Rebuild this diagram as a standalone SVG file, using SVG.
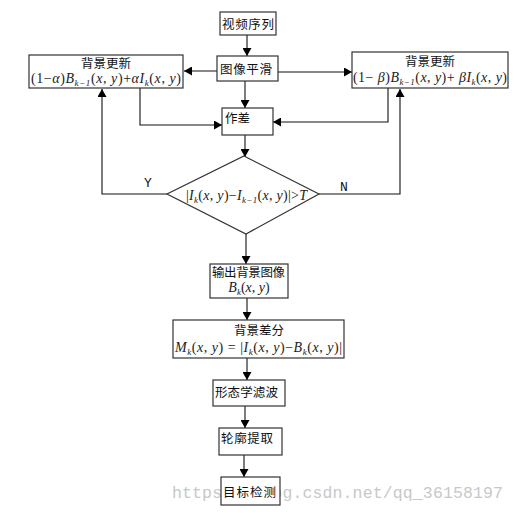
<svg xmlns="http://www.w3.org/2000/svg" width="514" height="513" viewBox="0 0 514 513">
<style>
.box{fill:#fff;stroke:#333;stroke-width:1.2}
.cn{font-family:"Noto Sans CJK SC","Liberation Sans",sans-serif;font-size:12.5px;fill:#111}
.m{font-family:"Liberation Serif",serif;font-size:14px;fill:#222}
.i{font-style:italic}
.s{font-size:9px;font-style:italic}
.ln{fill:none;stroke:#111;stroke-width:1.1}
.lab{font-family:"Liberation Mono",monospace;font-size:13px;fill:#111}
.wm{font-family:"Liberation Mono",monospace;font-size:16.5px;fill:#c8c8c8}
</style>
<defs>
<marker id="ah" markerUnits="userSpaceOnUse" markerWidth="9" markerHeight="9" refX="8" refY="4.5" orient="auto">
<path d="M0,0 L8,4.5 L0,9 z" fill="#000"/>
</marker>
</defs>
<rect width="514" height="513" fill="#fff"/>
<text class="wm" x="172" y="498" textLength="331">https://blog.csdn.net/qq_36158197</text>
<g id="connectors">
<line class="ln" x1="247" y1="35" x2="247" y2="56" marker-end="url(#ah)"/>
<line class="ln" x1="217" y1="71" x2="184" y2="71" marker-end="url(#ah)"/>
<line class="ln" x1="278" y1="72" x2="352" y2="72" marker-end="url(#ah)"/>
<line class="ln" x1="245" y1="81" x2="245" y2="108" marker-end="url(#ah)"/>
<polyline class="ln" points="140,88 140,125 222,125" marker-end="url(#ah)"/>
<polyline class="ln" points="388,88 388,122 273,122" marker-end="url(#ah)"/>
<line class="ln" x1="245" y1="135" x2="245" y2="157" marker-end="url(#ah)"/>
<polyline class="ln" points="167,194 102,194 102,89" marker-end="url(#ah)"/>
<polyline class="ln" points="319,194 400,194 400,89" marker-end="url(#ah)"/>
<line class="ln" x1="246" y1="234" x2="246" y2="264" marker-end="url(#ah)"/>
<line class="ln" x1="247" y1="298" x2="247" y2="320" marker-end="url(#ah)"/>
<line class="ln" x1="247" y1="358" x2="247" y2="380" marker-end="url(#ah)"/>
<line class="ln" x1="245" y1="406" x2="245" y2="428" marker-end="url(#ah)"/>
<line class="ln" x1="244" y1="455" x2="244" y2="477" marker-end="url(#ah)"/>
<text class="lab" x="144" y="187">Y</text>
<text class="lab" x="340" y="191">N</text>
</g>
<g id="n-video">
<rect class="box" x="220" y="12" width="56" height="23"/>
<text class="cn" x="222" y="29" textLength="52">视频序列</text>
</g>
<g id="n-smooth">
<rect class="box" x="217" y="56" width="61" height="25"/>
<text class="cn" x="220" y="74" textLength="52">图像平滑</text>
</g>
<g id="n-bg-left">
<rect class="box" x="29" y="55" width="154" height="33"/>
<text class="cn" x="106" y="68" text-anchor="middle">背景更新</text>
<text class="m" x="31" y="83" textLength="150">(1−<tspan class="i">α</tspan>)<tspan class="i">B</tspan><tspan class="s" dy="3">k−1</tspan><tspan dy="-3">(</tspan><tspan class="i">x</tspan>, <tspan class="i">y</tspan>)+<tspan class="i">αI</tspan><tspan class="s" dy="3">k</tspan><tspan dy="-3">(</tspan><tspan class="i">x</tspan>, <tspan class="i">y</tspan>)</text>
</g>
<g id="n-bg-right">
<rect class="box" x="352" y="52" width="156" height="36"/>
<text class="cn" x="430" y="66" text-anchor="middle">背景更新</text>
<text class="m" x="353" y="82" textLength="154">(1− <tspan class="i">β</tspan>)<tspan class="i">B</tspan><tspan class="s" dy="3">k−1</tspan><tspan dy="-3">(</tspan><tspan class="i">x</tspan>, <tspan class="i">y</tspan>)+ <tspan class="i">βI</tspan><tspan class="s" dy="3">k</tspan><tspan dy="-3">(</tspan><tspan class="i">x</tspan>, <tspan class="i">y</tspan>)</text>
</g>
<g id="n-diff">
<rect class="box" x="222" y="108" width="51" height="27"/>
<text class="cn" x="225" y="123">作差</text>
</g>
<g id="n-decision">
<polygon class="box" points="244,156 319,194 246,234 167,194"/>
<text class="m" x="186" y="200" textLength="121">|<tspan class="i">I</tspan><tspan class="s" dy="3">k</tspan><tspan dy="-3">(</tspan><tspan class="i">x</tspan>, <tspan class="i">y</tspan>)−<tspan class="i">I</tspan><tspan class="s" dy="3">k−1</tspan><tspan dy="-3">(</tspan><tspan class="i">x</tspan>, <tspan class="i">y</tspan>)|&gt;<tspan class="i">T</tspan></text>
</g>
<g id="n-output">
<rect class="box" x="210" y="264" width="78" height="34"/>
<text class="cn" x="212" y="277" textLength="73">输出背景图像</text>
<text class="m" x="249" y="292" text-anchor="middle"><tspan class="i">B</tspan><tspan class="s" dy="3">k</tspan><tspan dy="-3">(</tspan><tspan class="i">x</tspan>, <tspan class="i">y</tspan>)</text>
</g>
<g id="n-bgsub">
<rect class="box" x="173" y="320" width="171" height="38"/>
<text class="cn" x="259" y="335" text-anchor="middle">背景差分</text>
<text class="m" x="175" y="352" textLength="167"><tspan class="i">M</tspan><tspan class="s" dy="3">k</tspan><tspan dy="-3">(</tspan><tspan class="i">x</tspan>, <tspan class="i">y</tspan>) = |<tspan class="i">I</tspan><tspan class="s" dy="3">k</tspan><tspan dy="-3">(</tspan><tspan class="i">x</tspan>, <tspan class="i">y</tspan>)−<tspan class="i">B</tspan><tspan class="s" dy="3">k</tspan><tspan dy="-3">(</tspan><tspan class="i">x</tspan>, <tspan class="i">y</tspan>)|</text>
</g>
<g id="n-morph">
<rect class="box" x="213" y="380" width="72" height="26"/>
<text class="cn" x="215" y="397" textLength="63">形态学滤波</text>
</g>
<g id="n-contour">
<rect class="box" x="219" y="428" width="63" height="27"/>
<text class="cn" x="221" y="443" textLength="52">轮廓提取</text>
</g>
<g id="n-detect">
<rect class="box" x="221" y="477" width="59" height="28"/>
<text class="cn" x="223" y="497" textLength="53">目标检测</text>
</g>
</svg>
